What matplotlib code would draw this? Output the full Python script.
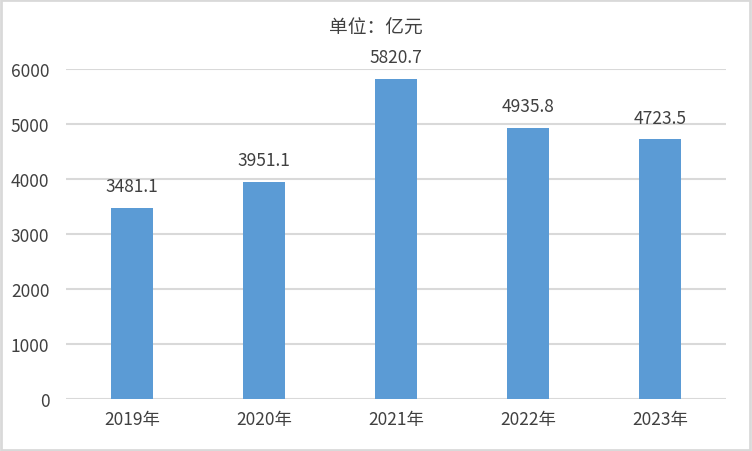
import matplotlib.pyplot as plt
from matplotlib.patches import Rectangle

plt.rcParams['font.family'] = ['Noto Sans CJK SC', 'DejaVu Sans']

years = ['2019年', '2020年', '2021年', '2022年', '2023年']
values = [3481.1, 3951.1, 5820.7, 4935.8, 4723.5]
yticks = [0, 1000, 2000, 3000, 4000, 5000, 6000]

txt = '#404040'
fig = plt.figure(figsize=(7.52, 4.52), dpi=100)
ax = fig.add_axes([66/752, 1 - 400/452, 660/752, 330/452])

x = range(len(years))
bars = ax.bar(x, values, width=0.32, color='#5b9bd5', zorder=3)
for b, v in zip(bars, values):
    ax.text(b.get_x() + b.get_width()/2, v + 230, f'{v:.1f}', ha='center', va='bottom',
            fontsize=12.5, color=txt)

ax.set_xlim(-0.5, len(years) - 0.5)
ax.set_ylim(0, 6000)
ax.set_yticks(yticks)
ax.set_xticks(list(x))
ax.set_xticklabels(years)
ax.grid(axis='y', color='#d9d9d9', linewidth=1.5, zorder=0)
for s in ax.spines.values():
    s.set_visible(False)
ax.tick_params(length=0, labelsize=12.5, colors=txt)
ax.tick_params(axis='y', pad=12)
ax.tick_params(axis='x', pad=8)

fig.text(0.5, 1 - 28/452, '单位：亿元', ha='center', va='center', fontsize=13.5, color=txt)
fig.patches.append(Rectangle((0.001, 0.002), 0.997, 0.995, transform=fig.transFigure,
                             fill=False, edgecolor='#d9d9d9', linewidth=2))

fig.savefig('out.png', dpi=100)
